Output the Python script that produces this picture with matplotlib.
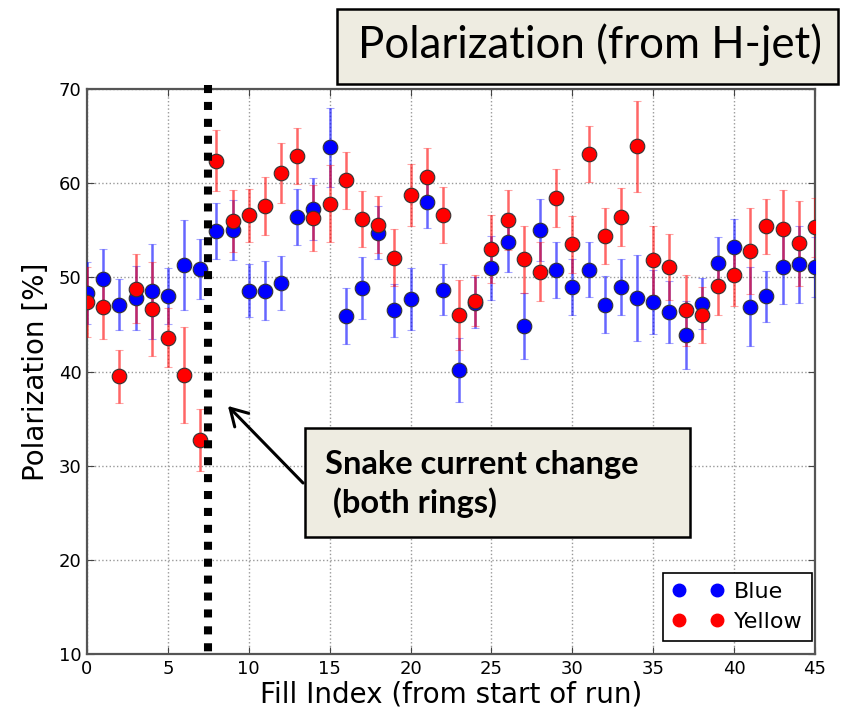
import matplotlib
matplotlib.use('Agg')
import matplotlib.pyplot as plt
from matplotlib.lines import Line2D
from matplotlib.patches import Rectangle, FancyArrowPatch
import numpy as np

# ── Data ──────────────────────────────────────────────────────────────────────

fill_index = list(range(46))

blue_pol = [48.3, 49.8, 47.1, 47.8, 48.5, 48.0, 51.3, 50.9, 54.9, 55.0,
            48.6, 48.6, 49.4, 56.4, 57.3, 63.8, 45.9, 48.9, 54.75, 46.5,
            47.7, 58.0, 48.7, 40.2, 47.3, 51.0, 53.7, 44.8, 55.0, 50.8,
            49.0, 50.8, 47.1, 49.0, 47.8, 47.4, 46.3, 43.9, 47.2, 51.5,
            53.2, 46.9, 48.0, 51.1, 51.4, 51.1]
blue_err = [3.3, 3.2, 2.7, 3.4, 5.0, 3.0, 4.8, 3.2, 3.0, 3.2,
            2.8, 3.1, 2.9, 3.0, 3.3, 4.2, 3.0, 3.3, 2.8, 2.8,
            3.3, 2.8, 2.7, 3.4, 2.7, 3.4, 3.1, 3.5, 3.3, 3.0,
            3.0, 2.9, 3.0, 3.0, 4.6, 3.4, 3.3, 3.6, 2.7, 2.8,
            3.0, 4.2, 2.7, 3.9, 4.1, 3.2]

yellow_pol = [47.4, 46.9, 39.5, 48.8, 46.6, 43.6, 39.6, 32.7, 62.4, 56.0,
              56.6, 57.6, 61.1, 62.9, 56.3, 57.8, 60.3, 56.2, 55.6, 52.1,
              58.7, 60.7, 56.6, 46.0, 47.5, 53.0, 56.1, 51.9, 50.6, 58.4,
              53.5, 63.1, 54.4, 56.4, 63.9, 51.8, 51.1, 46.5, 46.0, 49.1,
              50.3, 52.8, 55.4, 55.1, 53.6, 55.3]
yellow_err = [3.7, 3.5, 2.8, 3.7, 5.0, 3.1, 5.1, 3.3, 3.2, 3.3,
              2.8, 3.1, 3.2, 3.0, 3.5, 4.1, 3.0, 3.0, 3.0, 3.0,
              3.3, 3.0, 3.0, 3.7, 2.7, 3.6, 3.2, 3.6, 3.1, 3.1,
              3.0, 3.0, 3.0, 3.1, 4.8, 3.7, 3.5, 3.8, 3.0, 3.1,
              3.3, 4.6, 2.9, 4.2, 4.5, 3.1]

snake_change_x = 7.5
x_ticks = [0, 5, 10, 15, 20, 25, 30, 35, 40, 45]
y_ticks = [10, 20, 30, 40, 50, 60, 70]

W, H = 848, 713
BOX_FILL = '#eeece1'


def fx(px):
  return px / W


def fy(py):
  return 1 - py / H


fig = plt.figure(figsize=(W / 100, H / 100), dpi=100)
ax = fig.add_axes([fx(87), fy(654), (815 - 87) / W, (654 - 89) / H])

for vals, errs, col in [(blue_pol, blue_err, '#0000ff'), (yellow_pol, yellow_err, '#ff0000')]:
  _, caps, bars = ax.errorbar(fill_index, vals, yerr=errs, fmt='o', color=col,
                              ms=10.5, mec='#333333', mew=0.8, elinewidth=1.8,
                              capsize=3, capthick=0.8, ecolor=col, zorder=3)
  for b in bars:
    b.set_alpha(0.6)
  for c in caps:
    c.set_alpha(0.35)

ax.set_xlim(0, 45)
ax.set_ylim(10, 70)
ax.set_xticks(x_ticks)
ax.set_yticks(y_ticks)
ax.grid(True, color='#999999', ls=':', lw=1)
ax.tick_params(direction='in', length=5, top=True, right=True, labelsize=13,
               color='#444444', pad=4)
for s in ax.spines.values():
  s.set_color('#555555')
  s.set_linewidth(1.6)

ax.set_xlabel('Fill Index (from start of run)', fontsize=20, labelpad=2)
ax.set_ylabel('Polarization [%]', fontsize=20, labelpad=6)

# thick dotted marker for the snake current change
ax.plot([snake_change_x, snake_change_x], [70.4, 9.4], color='black', lw=5.8,
        ls=(0, (1.0, 1.1)), dash_capstyle='butt', clip_on=False, zorder=5)

handles = [Line2D([], [], ls='none', marker='o', color='#0000ff', mec='#0000ff', ms=9),
           Line2D([], [], ls='none', marker='o', color='#ff0000', mec='#ff0000', ms=9)]
leg = ax.legend(handles, ['Blue', 'Yellow'], loc='lower right', numpoints=2,
                bbox_to_anchor=(fx(812), fy(641)), bbox_transform=fig.transFigure,
                fontsize=16, fancybox=False, framealpha=1, edgecolor='black',
                borderaxespad=0, handletextpad=0.5, handlelength=2.3,
                borderpad=0.4, labelspacing=0.45)
leg.get_frame().set_linewidth(1.2)

# title box
fig.add_artist(Rectangle((fx(337), fy(84)), (838 - 337) / W, (84 - 9) / H,
                         transform=fig.transFigure, facecolor=BOX_FILL,
                         edgecolor='black', lw=1.8))
fig.text(fx(590), fy(45), 'Polarization (from H-jet)', ha='center', va='center',
         fontsize=31.5, family='Lato')

# annotation box + arrow
fig.add_artist(Rectangle((fx(305), fy(537)), (690 - 305) / W, (537 - 428) / H,
                         transform=fig.transFigure, facecolor=BOX_FILL,
                         edgecolor='black', lw=1.8, zorder=6))
fig.text(fx(325), fy(484), 'Snake current change\n (both rings)', ha='left',
         va='center', fontsize=23.5, fontweight='bold', family='Lato',
         linespacing=1.32, zorder=7)
fig.add_artist(FancyArrowPatch((fx(305), fy(485)), (fx(226), fy(404)),
                               transform=fig.transFigure, arrowstyle='->,head_length=0.6,head_width=0.35',
                               color='black', lw=2.2, mutation_scale=20, zorder=6))

fig.savefig('out.png', dpi=100)
